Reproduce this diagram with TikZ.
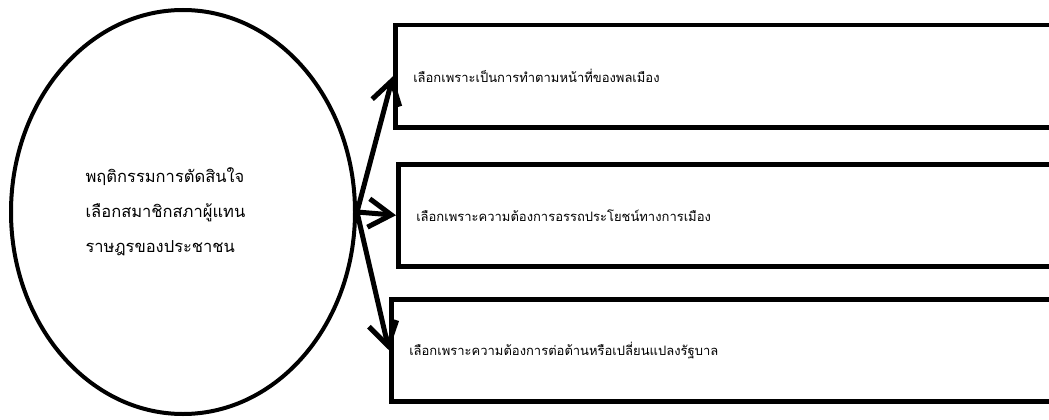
\documentclass[tikz,border=0pt]{standalone}
\usepackage{fontspec}
\newfontfamily\thaifont[Script=Thai]{Loma}
\usetikzlibrary{positioning, arrows.meta, shapes.geometric}

\begin{document}
\begin{tikzpicture}[x=1pt, y=-1pt, font=\thaifont\fontsize{13}{34}\selectfont,
  >={Straight Barb[length=8mm, width=10mm]},
  ovalbox/.style={draw, ellipse, line width=4pt, minimum width=344pt, minimum height=404pt, align=left, font=\thaifont\fontsize{16.5}{35}\selectfont},
  choice/.style={draw, line width=4.5pt, anchor=north west, text width=630pt, inner xsep=18pt, minimum height=102pt, align=left},
  arr/.style={->, line width=5pt}]
  \useasboundingbox (0,0) rectangle (1049,420);
  \node[ovalbox] (beh) at (183,212) {พฤติกรรมการตัดสินใจ\hspace*{36pt}\\เลือกสมาชิกสภาผู้แทน\\ราษฎรของประชาชน};
  \node[choice] (duty) at (393,23) {เลือกเพราะเป็นการทำตามหน้าที่ของพลเมือง};
  \node[choice] (gain) at (396,162) {เลือกเพราะความต้องการอรรถประโยชน์ทางการเมือง};
  \node[choice] (oppose) at (389,297) {เลือกเพราะความต้องการต่อต้านหรือเปลี่ยนแปลงรัฐบาล};
  \draw[arr] (beh.east) -- (duty.west); \draw[arr] (beh.east) -- (gain.west);
  \draw[arr] (beh.east) -- (oppose.west);
\end{tikzpicture}
\end{document}
